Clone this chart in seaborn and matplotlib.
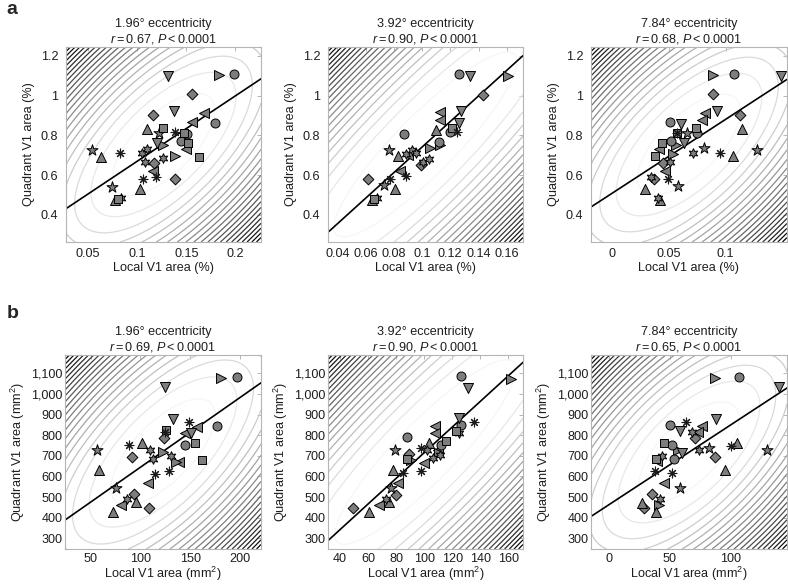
import numpy as np
import pandas as pd
import matplotlib
matplotlib.use("Agg")
import matplotlib.pyplot as plt
import seaborn as sns

# ---------------- data ----------------
# marker codes: o circle, s square, D diamond, ^ v < > triangles,
# p pentagram, h hexagram, x asterisk
A1_MARK = ['v','>','o','D','v','D','<','<','o','^','s','p','x','s','o','o','s','v','>','<',
           '>','s','p','^','x','h','h','h','h','D','<','x','x','D','^','p','^','s','h']
A1_X = [.131,.183,.199,.156,.137,.116,.168,.156,.179,.110,.126,.122,.139,.148,.151,.145,.152,.120,.126,.150,
        .138,.163,.054,.063,.083,.105,.110,.108,.126,.117,.116,.106,.119,.139,.103,.074,.077,.080,.084]
A1_Y = [1.101,1.104,1.109,1.007,.925,.903,.911,.870,.865,.831,.836,.811,.819,.811,.806,.772,.761,.764,.752,.730,
        .699,.694,.727,.694,.710,.710,.732,.668,.688,.660,.621,.579,.593,.579,.531,.543,.475,.480,.487]

A2_MARK = ['o','v','>','D','<','v','<','^','v','s','o','x','o','p','^','h','h','h','<','>',
           'o','>','D','h','h','D','<','x','x','p','^','^','s','h']
A2_X = [.126,.134,.161,.1435,.1127,.1275,.113,.110,.126,.121,.120,.1245,.0875,.0765,.083,.0887,.093,.096,.0899,.1057,
        .112,.113,.0993,.1005,.105,.0616,.0845,.077,.0883,.0734,.0805,.0645,.066,.068]
A2_Y = [1.109,1.101,1.101,1.004,.920,.923,.878,.828,.862,.836,.816,.819,.807,.727,.697,.705,.727,.710,.700,.735,
        .769,.752,.652,.665,.682,.579,.621,.581,.596,.551,.529,.475,.480,.484]

A3_MARK = ['>','o','v','D','v','<','<','D','^','o','v','s','o','s','x','p','o','>','v','s',
           '<','s','>','h','p','x','^','p','D','h','<','h','D','x','p','^','h','^']
A3_X = [.0889,.1073,.149,.0892,.0921,.0819,.079,.1123,.114,.0509,.0611,.0737,.0751,.057,.057,.0658,.0523,.0567,.0635,.0439,
        .0415,.038,.0532,.0713,.081,.0947,.1064,.1278,.0444,.0509,.0468,.0342,.0365,.0488,.0576,.0292,.040,.042]
A3_Y = [1.104,1.109,1.101,1.007,.925,.911,.878,.903,.831,.866,.856,.836,.811,.814,.814,.811,.772,.752,.764,.761,
        .732,.697,.705,.710,.736,.710,.697,.727,.660,.668,.621,.593,.579,.579,.546,.531,.487,.475]

B1_MARK = ['>','o','v','v','x','o','<','<','v','s','x','D','o','s','^','x','p','h','>','h',
           'D','h','<','>','s','^','x','x','<','p','D','h','<','^','^','D']
B1_X = [180.9,196.7,124.8,132.2,148.3,176.5,156.4,145.0,150.7,125.5,124.5,123.8,145.0,155.0,102.0,88.6,56.7,109.4,122.2,112.8,
        92.0,130.5,139.0,135.6,161.8,58.4,128.2,114.8,108.0,75.8,93.6,86.9,80.2,95.3,72.5,108.7]
B1_Y = [1076,1084,1035,879,866,846,841,809,812,825,815,785,753,761,761,750,728,728,720,683,
        693,700,672,669,680,631,628,612,567,542,513,491,462,475,429,445]

B2_MARK = ['o','v','>','v','x','o','<','<','s','h','o','p','x','^','o','s','h','<','>','D',
           's','>','<','h','h','^','x','x','<','p','D','h','^','<','^','D']
B2_X = [126.4,131.2,162.1,125.2,135.2,126.4,107.4,108.0,122.9,124.8,87.9,79.5,97.4,103.8,112.1,115.7,101.9,109.8,110.5,89.5,
        87.6,90.7,100.2,106.2,111.0,77.6,97.4,84.8,81.2,76.4,80.0,72.9,74.8,68.1,60.5,49.0]
B2_Y = [1087,1030,1071,882,866,850,845,809,822,812,790,728,736,761,753,774,728,728,712,709,
        683,680,667,688,704,631,628,615,570,542,510,491,475,462,429,445]

B3_MARK = ['>','o','v','v','x','o','v','<','<','h','D','o','s','>','v','h','p','x','^','p',
           'D','<','s','h','o','x','x','^','<','p','D','h','>','^','D','^']
B3_X = [87.4,106.6,140.2,88.0,62.8,50.0,57.9,76.5,73.2,67.8,71.0,51.4,45.0,56.8,60.1,73.8,82.0,100.5,105.2,129.8,
        87.4,39.6,38.3,43.7,53.3,37.4,51.9,95.6,45.0,57.9,35.0,41.5,41.0,38.2,28.7,26.8]
B3_Y = [1076,1084,1035,877,866,850,822,845,813,817,785,753,761,726,715,728,736,747,761,728,
        696,677,683,699,683,628,615,631,570,542,513,491,462,429,445,470]

TITLES_ECC = ["1.96\u00b0 eccentricity", "3.92\u00b0 eccentricity", "7.84\u00b0 eccentricity"]
R_VALUES_A = ["0.67", "0.90", "0.68"]
R_VALUES_B = ["0.69", "0.90", "0.65"]
XTICKS = [[0.05, 0.1, 0.15, 0.2], [0.04, 0.06, 0.08, 0.1, 0.12, 0.14, 0.16], [0, 0.05, 0.1],
          [50, 100, 150, 200], [40, 60, 80, 100, 120, 140, 160], [0, 50, 100]]
YTICKS_A = [0.4, 0.6, 0.8, 1.0, 1.2]
YTICKS_B = [300, 400, 500, 600, 700, 800, 900, 1000, 1100]

# ---------------- style ----------------
sns.set_theme(style="white")
plt.rcParams["font.family"] = ["Liberation Sans", "DejaVu Sans"]
plt.rcParams["mathtext.fontset"] = "custom"
plt.rcParams["mathtext.rm"] = "Liberation Sans"
plt.rcParams["mathtext.it"] = "Liberation Sans:italic"
FS = 9.1
TXT = "#1e1e1e"

W, H = 788, 585
fig = plt.figure(figsize=(W / 100, H / 100), dpi=100)

def axbox(x0, y0, x1, y1):
    return [x0 / W, 1 - y1 / H, (x1 - x0) / W, (y1 - y0) / H]

panels = [
    dict(d=(A1_MARK, A1_X, A1_Y), box=(66, 47, 261, 242), xl=(0.0276, 0.226), yl=(0.264, 1.245), row="a", col=0),
    dict(d=(A2_MARK, A2_X, A2_Y), box=(328, 47, 523, 242), xl=(0.0334, 0.1715), yl=(0.264, 1.245), row="a", col=1),
    dict(d=(A3_MARK, A3_X, A3_Y), box=(591, 47, 787, 242), xl=(-0.0185, 0.1539), yl=(0.264, 1.245), row="a", col=2),
    dict(d=(B1_MARK, B1_X, B1_Y), box=(65, 355, 261, 549), xl=(24.2, 221.1), yl=(248, 1188.7), row="b", col=0),
    dict(d=(B2_MARK, B2_X, B2_Y), box=(328, 355, 523, 549), xl=(31.4, 170.5), yl=(248, 1188.7), row="b", col=1),
    dict(d=(B3_MARK, B3_X, B3_Y), box=(591, 355, 787, 549), xl=(-15.1, 146.4), yl=(248, 1188.7), row="b", col=2),
]

filled_map = {'o': 'o', 's': 's', 'D': 'D', '^': '^', 'v': 'v', '<': '<', '>': '>',
              'p': '*', 'h': (6, 1, 0)}
size_map = {'o': 42, 's': 36, 'D': 30, '^': 52, 'v': 52, '<': 52, '>': 52, 'p': 70, 'h': 48}
FILL = "#7d7d7d"
N_LEVELS = 22

def fmt_tick(v, row):
    if row == "b":
        return f"{int(v):,}"
    return f"{v:g}"

for i, p in enumerate(panels):
    ax = fig.add_axes(axbox(*p["box"]))
    marks, xs, ys = p["d"]
    df = pd.DataFrame({"x": xs, "y": ys, "m": marks})
    ax.set_xlim(*p["xl"])
    ax.set_ylim(*p["yl"])

    # background Mahalanobis-distance contours (data covariance, centred in the box),
    # evenly spaced levels from 0 to the corner value, white -> black
    pts = np.c_[df["x"].values, df["y"].values]
    cx, cy = np.mean(p["xl"]), np.mean(p["yl"])
    inv = np.linalg.inv(np.cov(pts.T))
    gx = np.linspace(p["xl"][0], p["xl"][1], 600)
    gy = np.linspace(p["yl"][0], p["yl"][1], 600)
    GX, GY = np.meshgrid(gx, gy)
    dx, dy = GX - cx, GY - cy
    D2 = inv[0, 0] * dx * dx + 2 * inv[0, 1] * dx * dy + inv[1, 1] * dy * dy
    d2max = float(D2.max())
    frac = np.arange(1, N_LEVELS) / N_LEVELS
    levels = d2max * frac
    greys = [(g, g, g) for g in np.clip(1.02 * (1 - frac) ** 1.2, 0, 1)]
    ax.contour(GX, GY, D2, levels=levels, colors=greys, linewidths=0.9, zorder=1)

    # regression line
    sns.regplot(data=df, x="x", y="y", ax=ax, scatter=False, ci=None, truncate=False,
                line_kws=dict(color="black", lw=1.2, zorder=2))

    # filled markers
    dff = df[df["m"] != "x"]
    for code, sub in dff.groupby("m"):
        sns.scatterplot(data=sub, x="x", y="y", ax=ax, marker=filled_map[code], s=size_map[code],
                        color=FILL, edgecolor="black", linewidth=0.7, zorder=3, legend=False)
    dfa = df[df["m"] == "x"]
    sns.scatterplot(data=dfa, x="x", y="y", ax=ax, marker=(8, 2, 0), s=40, color="#1a1a1a",
                    linewidth=0.8, zorder=3, legend=False)

    ax.set_xlim(*p["xl"])
    ax.set_ylim(*p["yl"])

    xt = XTICKS[i]
    ax.set_xticks(xt)
    ax.set_xticklabels([fmt_tick(v, p["row"]) for v in xt], fontsize=FS)
    yt = YTICKS_A if p["row"] == "a" else YTICKS_B
    ax.set_yticks(yt)
    ax.set_yticklabels([fmt_tick(v, p["row"]) for v in yt], fontsize=FS)
    ax.tick_params(direction="in", length=3, width=0.6, color="#aaaaaa",
                   top=True, right=True, labelcolor=TXT)
    for sp in ax.spines.values():
        sp.set_color("#b5b5b5")
        sp.set_linewidth(0.8)

    if p["row"] == "a":
        ax.tick_params(axis="y", pad=5.5)
        ax.tick_params(axis="x", pad=4.0)
        ax.set_xlabel("Local V1 area (%)", fontsize=FS, color=TXT, labelpad=2)
        ax.set_ylabel("Quadrant V1 area (%)", fontsize=FS, color=TXT, labelpad=4)
        rv = R_VALUES_A[p["col"]]
    else:
        ax.tick_params(axis="y", pad=2.0)
        ax.tick_params(axis="x", pad=3.0)
        ax.set_xlabel("Local V1 area (mm$^2$)", fontsize=FS, color=TXT, labelpad=0)
        ax.set_ylabel("Quadrant V1 area (mm$^2$)", fontsize=FS, color=TXT, labelpad=3)
        rv = R_VALUES_B[p["col"]]
    title = TITLES_ECC[p["col"]] + "\n" + "$\\mathit{r}=$" + rv + ", $\\mathit{P}<$0.0001"
    ax.set_title(title, fontsize=FS, color=TXT, pad=3, linespacing=1.2)

fig.text(12 / W, 1 - 9 / H, "a", fontsize=14, fontweight="bold", va="center", ha="center")
fig.text(13 / W, 1 - 313 / H, "b", fontsize=14, fontweight="bold", va="center", ha="center")

fig.savefig("out.png", dpi=100)
